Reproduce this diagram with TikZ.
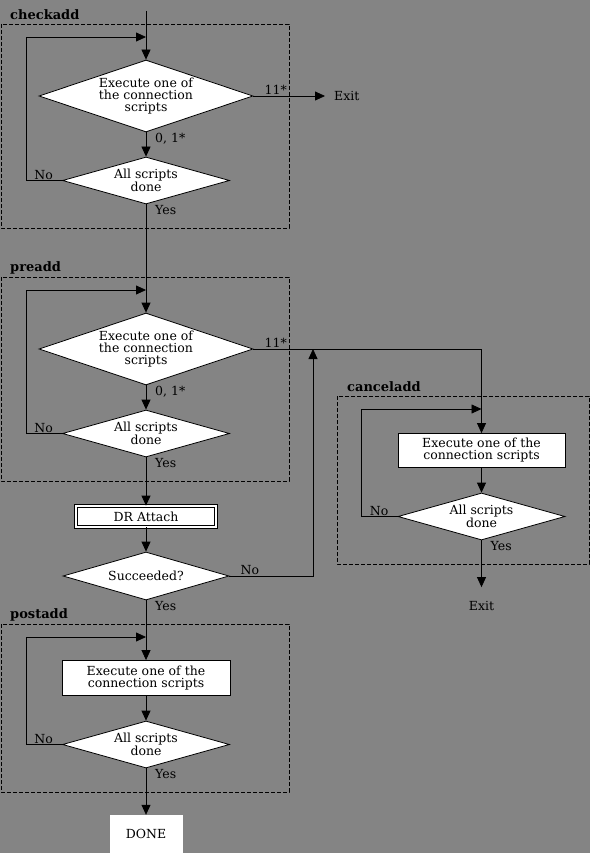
\documentclass[tikz,border=0pt]{standalone}
\usepackage{fontspec}
\setmainfont{DejaVu Serif}
\usetikzlibrary{arrows.meta,shapes.geometric}
\definecolor{screen}{RGB}{132,132,132}
\tikzset{
	flow/.style={draw=black,line width=0.8pt,-{Triangle[length=10pt,width=9pt]}},
	group/.style={draw=black,line width=0.8pt,dash pattern=on 4pt off 2pt},
	title/.style={font=\fontsize{13}{13}\selectfont\bfseries,anchor=west,inner sep=1pt},
	tag/.style={inner sep=1pt},
	choice/.style={diamond,draw=black,fill=white,line width=0.8pt,align=center,inner sep=0pt,shape aspect=3},
	bigchoice/.style={choice,minimum width=214pt,minimum height=72pt},
	smallchoice/.style={choice,minimum width=167pt,minimum height=47pt,shape aspect=3.5},
	task/.style={rectangle,draw=black,fill=white,line width=0.8pt,align=center,inner sep=0pt},
}

\begin{document}
\begin{tikzpicture}[x=1pt,y=-1pt,font=\fontsize{12.5}{12}\selectfont]
	\fill[screen] (0,0) rectangle (590,853);
	\useasboundingbox (0,0) rectangle (590,853);

	\node[title] (checkadd) at (9,15) {checkadd};
	\draw[group] (1,24) rectangle (289,228);
	\node[bigchoice] (cexec) at (146,96) {Execute one of\\the connection\\scripts};
	\node[smallchoice] (cdone) at (146,180.5) {All scripts\\done};
	\coordinate (cin) at (146,11);
	\coordinate (cloop) at (146,37);
	\node[tag,anchor=west] (cexit) at (333,96) {Exit};
	\draw[flow] (cin) -- (cexec);
	\draw[flow] (cexec) -- (cdone);
	\draw[flow] (cdone.west) -- ++(-36,0) |- (cloop);
	\draw[flow,shorten >=8pt] (cexec.east) -- (cexit.west);
	\node[tag,anchor=south west] (c11) at ([xshift=10pt]cexec.east) {11*};
	\node[tag,anchor=north west] (c01) at ([xshift=8pt]cexec.south) {0, 1*};
	\node[tag,anchor=south east] (cno) at ([xshift=-8pt]cdone.west) {No};
	\node[tag,anchor=north west] (cyes) at ([xshift=8pt]cdone.south) {Yes};

	\node[title] (preadd) at (9,268) {preadd};
	\draw[group] (1,277) rectangle (289,481);
	\node[bigchoice] (pexec) at (146,349) {Execute one of\\the connection\\scripts};
	\node[smallchoice] (pdone) at (146,433.5) {All scripts\\done};
	\coordinate (ploop) at (146,290);
	\draw[flow] (cdone) -- (pexec);
	\draw[flow] (pexec) -- (pdone);
	\draw[flow] (pdone.west) -- ++(-36,0) |- (ploop);
	\node[tag,anchor=south west] (p11) at ([xshift=10pt]pexec.east) {11*};
	\node[tag,anchor=north west] (p01) at ([xshift=8pt]pexec.south) {0, 1*};
	\node[tag,anchor=south east] (pno) at ([xshift=-8pt]pdone.west) {No};
	\node[tag,anchor=north west] (pyes) at ([xshift=8pt]pdone.south) {Yes};

	\node[task,double,double distance=2pt,minimum width=140pt,minimum height=21pt] (attach) at (146,516.5) {DR Attach};
	\node[choice,minimum width=166pt,minimum height=48pt,shape aspect=3.5] (succ) at (146,576) {Succeeded?};
	\coordinate (pjoin) at (313,349);
	\draw[flow] (pdone) -- (attach);
	\draw[flow] (attach) -- (succ);
	\draw[flow] (succ.east) -| (pjoin);
	\node[tag,anchor=south west] (sno) at ([xshift=10pt]succ.east) {No};
	\node[tag,anchor=north west] (syes) at ([xshift=8pt]succ.south) {Yes};

	\node[title] (canceladd) at (346,387) {canceladd};
	\draw[group] (337,396) rectangle (589,564);
	\node[task,minimum width=167pt,minimum height=34pt] (kbox) at (481.5,450.5) {Execute one of the\\connection scripts};
	\node[smallchoice] (kdone) at (481.5,516.5) {All scripts\\done};
	\coordinate (kloop) at (481.5,409);
	\node[tag] (kexit) at (481.5,606) {Exit};
	\draw[flow] (pexec.east) -| (kbox.north);
	\draw[flow] (kbox) -- (kdone);
	\draw[flow] (kdone.west) -- ++(-36,0) |- (kloop);
	\draw[flow,shorten >=13pt] (kdone) -- (kexit);
	\node[tag,anchor=south east] (kno) at ([xshift=-8pt]kdone.west) {No};
	\node[tag,anchor=north west] (kyes) at ([xshift=8pt]kdone.south) {Yes};

	\node[title] (postadd) at (9,615) {postadd};
	\draw[group] (1,624) rectangle (289,792);
	\node[task,minimum width=168pt,minimum height=35pt] (xbox) at (146,678) {Execute one of the\\connection scripts};
	\node[smallchoice] (xdone) at (146,744.5) {All scripts\\done};
	\coordinate (xloop) at (146,637);
	\node[fill=white,minimum width=73pt,minimum height=38pt] (done) at (146,834) {DONE};
	\draw[flow] (succ) -- (xbox);
	\draw[flow] (xbox) -- (xdone);
	\draw[flow] (xdone.west) -- ++(-36,0) |- (xloop);
	\draw[flow] (xdone) -- (done);
	\node[tag,anchor=south east] (xno) at ([xshift=-8pt]xdone.west) {No};
	\node[tag,anchor=north west] (xyes) at ([xshift=8pt]xdone.south) {Yes};
\end{tikzpicture}
\end{document}
